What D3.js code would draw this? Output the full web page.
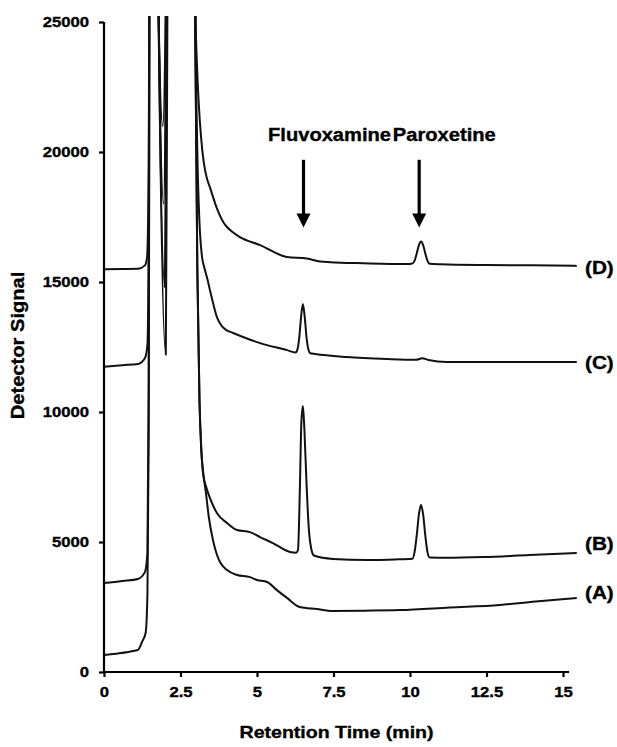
<!DOCTYPE html>
<html>
<head>
<meta charset="utf-8">
<script src="https://cdnjs.cloudflare.com/ajax/libs/d3/7.8.5/d3.min.js"></script>
<style>
  body { margin: 0; background: #fff; }
  svg { display: block; font-family: "Liberation Sans", Arial, sans-serif; font-weight: bold; }
  svg text { fill: #000; stroke: #000; stroke-width: 0.35px; }
  .axis path, .axis line { stroke: #000; stroke-width: 2.2; }
  .axis text { font-size: 14.5px; }
  .trace { fill: none; stroke: #111; stroke-width: 2; stroke-linejoin: round; }
</style>
</head>
<body>
<div id="chart"></div>
<script>
// chromatogram data, [time (min), detector signal]

var xTicks = [0, 2.5, 5, 7.5, 10, 12.5, 15],
    yTicks = [0, 5000, 10000, 15000, 20000, 25000];

var traceA = [
  [0, 650], [0.5, 720], [1.0, 820], [1.11, 850], [1.24, 1150], [1.36, 1500], [1.42, 3000], [1.46, 9000], [1.51, 40000],
  [1.70, 40000], [1.77, 26000], [1.92, 21000], [2.02, 26000], [2.08, 40000],
  [2.92, 40000], [2.98, 25000], [3.05, 15500], [3.12, 10400], [3.18, 8500], [3.26, 7500], [3.33, 6900], [3.42, 6000],
  [3.56, 5080], [3.68, 4550], [3.79, 4230], [4.02, 3920], [4.35, 3730], [4.77, 3650], [5.0, 3540], [5.33, 3460],
  [5.65, 3150], [5.98, 2850], [6.4, 2500], [6.96, 2420], [7.39, 2350], [8.5, 2360], [9.67, 2380], [11.3, 2480],
  [12.94, 2580], [14.2, 2720], [15.45, 2850]
];

var traceB = [
  [0, 3420], [0.6, 3500], [1.11, 3580], [1.34, 3850], [1.42, 4600], [1.46, 11000], [1.51, 40000],
  [1.71, 40000], [1.78, 26000], [1.95, 18000], [2.03, 26000], [2.09, 40000],
  [2.92, 40000], [2.98, 25000], [3.05, 15500], [3.12, 10500], [3.18, 8600], [3.24, 7600], [3.33, 7150], [3.46, 6700],
  [3.69, 6115], [4.02, 5730], [4.35, 5460], [4.77, 5380], [5.10, 5190], [5.52, 4960], [6.08, 4615], [6.28, 4590],
  [6.34, 4700], [6.40, 7000], [6.45, 9600], [6.50, 10230], [6.55, 9300], [6.62, 7200], [6.70, 5400], [6.78, 4700],
  [6.86, 4480], [7.48, 4350], [8.6, 4310], [9.5, 4330], [10.08, 4360], [10.15, 4620], [10.22, 5250], [10.29, 6050],
  [10.36, 6420], [10.43, 6050], [10.50, 5250], [10.57, 4620], [10.64, 4400], [11.2, 4390], [12.4, 4420],
  [13.9, 4500], [15.45, 4580]
];

var traceC = [
  [0, 11740], [0.6, 11800], [1.11, 11850], [1.34, 12080], [1.42, 12600], [1.46, 17000], [1.51, 40000],
  [1.72, 40000], [1.79, 25000], [2.02, 12200], [2.07, 25000], [2.12, 40000],
  [2.92, 40000], [2.99, 25000], [3.05, 20000], [3.12, 17300], [3.2, 16000], [3.28, 15550], [3.37, 15150],
  [3.5, 14500], [3.69, 13650], [3.85, 13300], [4.0, 13150], [4.22, 13040], [5.10, 12650], [5.98, 12380],
  [6.26, 12290], [6.32, 12400], [6.38, 12850], [6.44, 13650], [6.50, 14150], [6.56, 13650], [6.62, 12850],
  [6.68, 12400], [6.74, 12260], [6.9, 12230], [7.94, 12115], [9.25, 12040], [10.2, 12010], [10.4, 12070],
  [10.6, 12000], [11.2, 11920], [13.0, 11920], [15.45, 11920]
];

var traceD = [
  [0, 15490], [0.6, 15500], [1.11, 15510], [1.34, 15640], [1.41, 16000], [1.46, 19500], [1.51, 40000],
  [1.70, 40000], [1.78, 25500], [1.99, 14800], [2.05, 25500], [2.10, 40000],
  [2.92, 40000], [2.98, 26000], [3.04, 23300], [3.1, 21800], [3.17, 20600], [3.26, 19600], [3.36, 19000],
  [3.46, 18650], [3.7, 17800], [3.9, 17300], [4.02, 17115], [4.2, 16920], [4.44, 16730], [5.10, 16420],
  [5.98, 15960], [6.63, 15900], [7.06, 15790], [7.39, 15760], [8.5, 15720], [9.9, 15690], [10.08, 15710],
  [10.15, 15820], [10.22, 16100], [10.29, 16420], [10.36, 16560], [10.43, 16420], [10.50, 16100], [10.57, 15820],
  [10.64, 15700], [11.0, 15680], [12.5, 15650], [14.0, 15640], [15.45, 15620]
];

var traceNames = ["(A)", "(B)", "(C)", "(D)"],
    traceLabelSignal = [3040, 4960, 11920, 15540],
    traceLabelTime = 15.72;

var compounds = ["Fluvoxamine", "Paroxetine"],
    compoundLabelTime = [5.36, 9.44],
    compoundLabelSignal = 20420,
    arrowTime = [6.52, 10.3],
    arrowTop = 19700,
    arrowTip = 17100;

var xAxisEnd = 15.2;

// layout

var outerWidth = 617,
    outerHeight = 747,
    margin = { top: 22, left: 104 },
    width = 459,
    height = 650,
    stretch = 1.15;

var x = d3.scaleLinear().domain([0, 15]).range([0, width]);
var y = d3.scaleLinear().domain([0, 25000]).range([height, 0]);

var svg = d3.select("#chart")
    .append("svg")
    .attr("width", outerWidth)
    .attr("height", outerHeight);

var g = svg.append("g")
    .attr("transform", "translate(" + margin.left + "," + margin.top + ")");

// scanned text looks horizontally stretched
function widen(sel) {
    sel.each(function() {
        var len = this.getComputedTextLength();
        d3.select(this)
            .attr("textLength", len * stretch)
            .attr("lengthAdjust", "spacingAndGlyphs");
    });
}

g.append("clipPath")
    .attr("id", "clip")
    .append("rect")
    .attr("x", -2)
    .attr("y", -6)
    .attr("width", outerWidth - margin.left + 2)
    .attr("height", height + 20);

var line = d3.line()
    .x(function(d) { return x(d[0]); })
    .y(function(d) { return y(d[1]); })
    .curve(d3.curveMonotoneX);

var traces = [traceA, traceB, traceC, traceD];

g.append("g")
    .attr("clip-path", "url(#clip)")
    .selectAll(".trace")
    .data(traces)
    .enter()
    .append("path")
    .classed("trace", true)
    .attr("d", line);

// axes
var xAxis = d3.axisBottom(x)
    .tickValues(xTicks)
    .tickSize(5)
    .tickSizeOuter(0)
    .tickPadding(10)
    .tickFormat(d3.format(""));

var gX = g.append("g")
    .classed("x axis", true)
    .attr("transform", "translate(0," + height + ")")
    .call(xAxis);
gX.select(".domain").attr("d", "M" + x(0) + ",0H" + x(xAxisEnd));

var yAxis = d3.axisLeft(y)
    .tickValues(yTicks)
    .tickSize(5)
    .tickSizeOuter(0)
    .tickPadding(10)
    .tickFormat(d3.format("d"));

var gY = g.append("g")
    .classed("y axis", true)
    .call(yAxis);
gY.select(".domain").attr("d", "M0," + y(0) + "V" + y(25000));

gX.selectAll("text").call(widen);
gY.selectAll("text").call(widen);

// axis titles
svg.append("text")
    .attr("x", margin.left + x(7.6))
    .attr("y", 738)
    .attr("text-anchor", "middle")
    .style("font-size", "17px")
    .text("Retention Time (min)")
    .call(widen);

svg.append("text")
    .attr("transform", "translate(24," + (margin.top + y(12560)) + ") rotate(-90)")
    .attr("text-anchor", "middle")
    .style("font-size", "17.5px")
    .text("Detector Signal")
    .call(widen);

// trace labels
g.selectAll(".tlabel")
    .data(traceNames)
    .enter()
    .append("text")
    .classed("tlabel", true)
    .attr("x", x(traceLabelTime))
    .attr("y", function(d, i) { return y(traceLabelSignal[i]); })
    .attr("dy", "0.36em")
    .style("font-size", "18px")
    .text(function(d) { return d; })
    .call(widen);

// compound labels and arrows
g.selectAll(".clabel")
    .data(compounds)
    .enter()
    .append("text")
    .classed("clabel", true)
    .attr("x", function(d, i) { return x(compoundLabelTime[i]); })
    .attr("y", y(compoundLabelSignal))
    .style("font-size", "17.5px")
    .text(function(d) { return d; })
    .call(widen);

var arrows = g.selectAll(".arrow")
    .data(arrowTime)
    .enter()
    .append("g")
    .classed("arrow", true);

arrows.append("line")
    .attr("x1", function(d) { return x(d); })
    .attr("x2", function(d) { return x(d); })
    .attr("y1", y(arrowTop))
    .attr("y2", y(arrowTip) - 12)
    .attr("stroke", "#000")
    .attr("stroke-width", 3.2);

arrows.append("path")
    .attr("d", function(d) {
        var ax = x(d), ay = y(arrowTip);
        return "M" + (ax - 7) + "," + (ay - 14) + "L" + (ax + 7) + "," + (ay - 14) + "L" + ax + "," + ay + "Z";
    })
    .attr("fill", "#000");
</script>
</body>
</html>
